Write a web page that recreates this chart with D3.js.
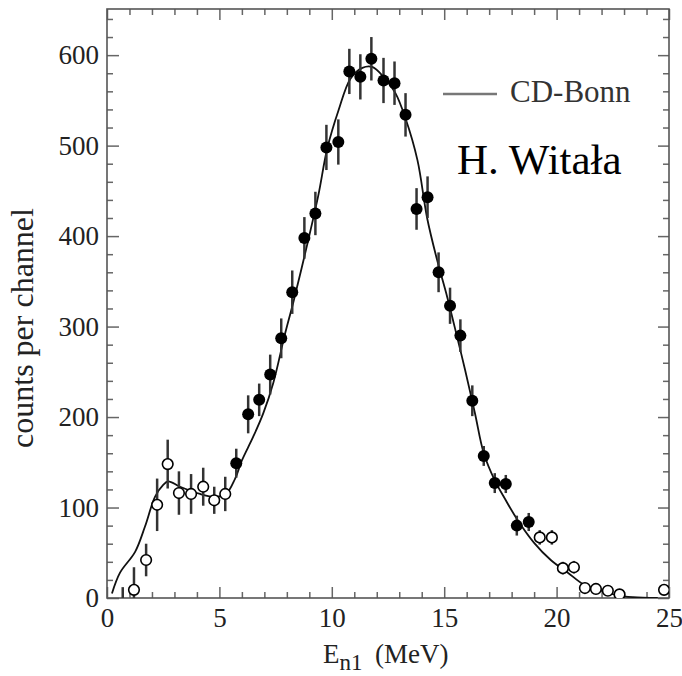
<!DOCTYPE html>
<html><head><meta charset="utf-8">
<script src="https://cdn.jsdelivr.net/npm/d3@7"></script>
<style>body{margin:0;background:#fff}svg{display:block}text{font-family:"Liberation Serif","Times New Roman",serif}</style>
</head><body>
<svg id="c" width="682" height="676"></svg>
<script>
// open circles, low energy
const lowE   = [0.7, 1.2, 1.74, 2.23, 2.7, 3.2, 3.74, 4.28, 4.77, 5.26];
const lowC   = [-10, 9, 42, 103, 148, 116, 115, 123, 108, 115];
const lowErr = [22, 25, 18, 29, 27, 24, 22, 21, 15, 19];
// filled circles
const midE   = [5.75, 6.28, 6.77, 7.26, 7.75, 8.24, 8.78, 9.27, 9.76, 10.29, 10.78, 11.27, 11.76, 12.3, 12.79, 13.28, 13.77, 14.26, 14.75, 15.26, 15.72, 16.25, 16.76, 17.25, 17.74, 18.23, 18.76];
const midC   = [149, 203, 219, 247, 287, 338, 398, 425, 498, 504, 582, 576, 596, 572, 569, 534, 430, 443, 360, 323, 290, 218, 157, 127, 126, 80, 84];
const midErr = [16, 21, 18, 22, 22, 24, 23, 24, 25, 25, 25, 25, 24, 25, 24, 24, 23, 23, 22, 20, 18, 17, 11, 11, 10, 11, 10];
// open circles, high energy
const highE   = [19.25, 19.79, 20.28, 20.77, 21.26, 21.75, 22.28, 22.8, 24.78];
const highC   = [67, 67, 33, 34, 11, 10, 8, 4, 9];
const highErr = [8, 8, 7, 7, 5, 5, 5, 5, 6];
// CD-Bonn curve
const curveE = [0.22, 0.58, 1.25, 1.69, 2.14, 2.5, 2.72, 3.25, 4.14, 4.72, 5.26, 5.7, 6.0, 6.5, 6.95, 7.4, 7.9, 8.3, 8.9, 9.4, 9.8, 10.3, 10.83, 11.36, 11.8, 12.3, 12.83, 13.28, 13.81, 14.24, 14.68, 15.13, 15.57, 15.93, 16.37, 16.76, 17.25, 17.74, 18.27, 19.0, 19.74, 20.5, 21.2, 21.97, 22.7, 23.4, 24.5];
const curveC = [5, 28, 51, 79, 112, 125, 129, 123, 115, 112, 114, 132, 152, 178, 204, 238, 290, 328, 390, 445, 497, 539, 574, 586, 587, 576, 558, 530, 484, 420, 374, 333, 289, 252, 204, 160, 130, 108, 86, 61, 42, 28, 15, 8, 3, 1, 0];
const xTicks = [0, 5, 10, 15, 20, 25];
const yTicks = [0, 100, 200, 300, 400, 500, 600];

const svg = d3.select("#c");
const x = d3.scaleLinear().domain([0, 25]).range([107, 669]);
const y = d3.scaleLinear().domain([0, 651]).range([598, 9]);
const axisCol = "#666";

svg.append("defs").append("clipPath").attr("id", "clip")
  .append("rect").attr("x", 107).attr("y", 9).attr("width", 562).attr("height", 589);

function styleAxis(g) {
  g.select(".domain").remove();
  g.selectAll(".tick line").attr("stroke", axisCol).attr("stroke-width", 1.5);
  g.selectAll("text").attr("fill", "#222").style("font-size", "27px")
    .style("font-family", '"Liberation Serif","Times New Roman",serif');
}
const minorX = d3.range(0, 26, 1).filter(v => v % 5 !== 0);
const minorY = d3.range(0, 651, 20).filter(v => v % 100 !== 0);

// bottom
svg.append("g").attr("transform", "translate(0,598)")
  .call(d3.axisBottom(x).tickValues(xTicks).tickFormat(d3.format("d")).tickSizeInner(-11).tickSizeOuter(0).tickPadding(10)).call(styleAxis);
svg.append("g").attr("transform", "translate(0,598)")
  .call(d3.axisBottom(x).tickValues(minorX).tickFormat("").tickSizeInner(-6).tickSizeOuter(0)).call(styleAxis);
// top
svg.append("g").attr("transform", "translate(0,9)")
  .call(d3.axisTop(x).tickValues(xTicks).tickFormat("").tickSizeInner(-11).tickSizeOuter(0)).call(styleAxis);
svg.append("g").attr("transform", "translate(0,9)")
  .call(d3.axisTop(x).tickValues(minorX).tickFormat("").tickSizeInner(-6).tickSizeOuter(0)).call(styleAxis);
// left
svg.append("g").attr("transform", "translate(107,0)")
  .call(d3.axisLeft(y).tickValues(yTicks).tickFormat(d3.format("d")).tickSizeInner(-12).tickSizeOuter(0).tickPadding(8)).call(styleAxis);
svg.append("g").attr("transform", "translate(107,0)")
  .call(d3.axisLeft(y).tickValues(minorY).tickFormat("").tickSizeInner(-6).tickSizeOuter(0)).call(styleAxis);
// right
svg.append("g").attr("transform", "translate(669,0)")
  .call(d3.axisRight(y).tickValues(yTicks).tickFormat("").tickSizeInner(-11).tickSizeOuter(0)).call(styleAxis);
svg.append("g").attr("transform", "translate(669,0)")
  .call(d3.axisRight(y).tickValues(minorY).tickFormat("").tickSizeInner(-6).tickSizeOuter(0)).call(styleAxis);

// frame
svg.append("rect").attr("x", 107).attr("y", 9).attr("width", 562).attr("height", 589)
  .attr("fill", "none").attr("stroke", "#555").attr("stroke-width", 1.6);

const plot = svg.append("g").attr("clip-path", "url(#clip)");

// curve
const curveData = curveE.map((e, i) => [e, curveC[i]]);
plot.append("path").datum(curveData)
  .attr("fill", "none").attr("stroke", "#111").attr("stroke-width", 1.8)
  .attr("d", d3.line().x(d => x(d[0])).y(d => y(d[1])).curve(d3.curveCatmullRom));

function points(E, C, Err, filled) {
  const data = E.map((e, i) => ({e, c: C[i], err: Err[i]}));
  plot.append("g").selectAll("line").data(data).join("line")
    .attr("x1", d => x(d.e)).attr("x2", d => x(d.e))
    .attr("y1", d => y(d.c - d.err)).attr("y2", d => y(d.c + d.err))
    .attr("stroke", "#333").attr("stroke-width", 2.5);
  plot.append("g").selectAll("circle").data(data).join("circle")
    .attr("cx", d => x(d.e)).attr("cy", d => y(d.c))
    .attr("r", filled ? 6 : 5.3)
    .attr("fill", filled ? "#000" : "#fff")
    .attr("stroke", "#000").attr("stroke-width", filled ? 0 : 1.6);
}
points(lowE, lowC, lowErr, false);
points(midE, midC, midErr, true);
points(highE, highC, highErr, false);

// legend
svg.append("line").attr("x1", 443).attr("x2", 497).attr("y1", 94).attr("y2", 94)
  .attr("stroke", "#777").attr("stroke-width", 2.5);
svg.append("text").attr("x", 510).attr("y", 102).attr("fill", "#333")
  .style("font-size", "31px").text("CD-Bonn");
svg.append("text").attr("x", 457).attr("y", 174).attr("fill", "#000")
  .style("font-size", "43px").text("H. Witała");

// axis labels
const xl = svg.append("text").attr("y", 663).attr("fill", "#222").style("font-size", "27px");
xl.append("tspan").attr("x", 323).text("E");
xl.append("tspan").attr("dy", 7).style("font-size", "23px").text("n1");
xl.append("tspan").attr("x", 375).attr("dy", -7).text("(MeV)");

svg.append("text").attr("transform", "translate(33,328) rotate(-90)")
  .attr("text-anchor", "middle").attr("fill", "#222").style("font-size", "32px")
  .text("counts per channel");
</script>
</body></html>
